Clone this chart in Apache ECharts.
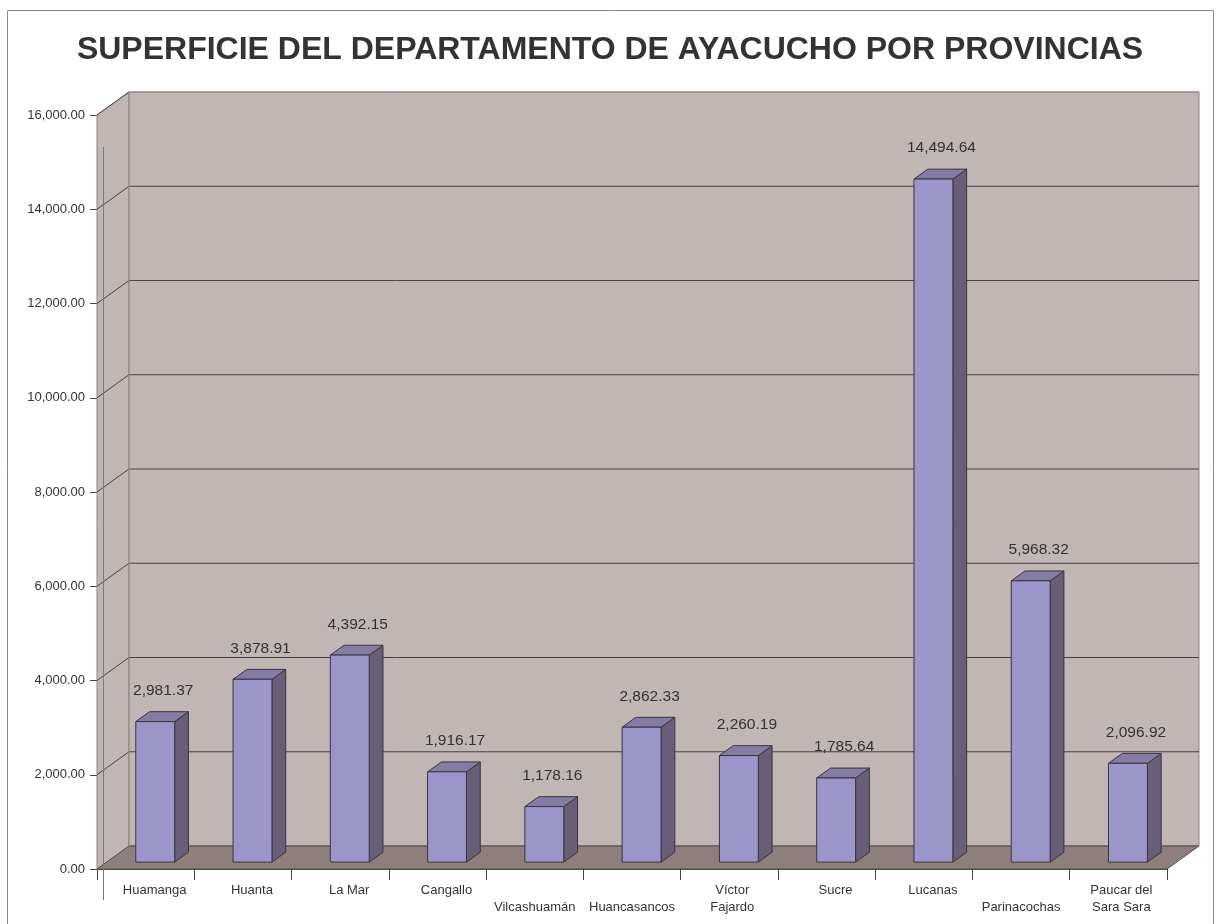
<!DOCTYPE html>
<html>
<head>
<meta charset="utf-8">
<script src="https://cdn.jsdelivr.net/npm/echarts@6/dist/echarts.min.js"></script>
<style>html,body{margin:0;padding:0;background:#fff}#c{width:1220px;height:924px}</style>
</head>
<body>
<div id="c"></div>
<script>
// ---- data ----
const categories = ['Huamanga','Huanta','La Mar','Cangallo','Vilcashuamán','Huancasancos','Víctor Fajardo','Sucre','Lucanas','Parinacochas','Paucar del Sara Sara'];
const tickLabels = ['Huamanga','Huanta','La Mar','Cangallo','\nVilcashuamán','\nHuancasancos','Víctor\nFajardo','Sucre','Lucanas','\nParinacochas','Paucar del\nSara Sara'];
const values = [2981.37, 3878.91, 4392.15, 1916.17, 1178.16, 2862.33, 2260.19, 1785.64, 14494.64, 5968.32, 2096.92];
const yTicks = [0, 2000, 4000, 6000, 8000, 10000, 12000, 14000, 16000];
const titleText = 'SUPERFICIE DEL DEPARTAMENTO DE AYACUCHO POR PROVINCIAS';

// ---- style constants ----
const DX = 32, DY = -23;          // depth of the 3D box
const FONT = '"Liberation Sans", Arial, Helvetica, sans-serif';
const fmt = v => v.toLocaleString('en-US', {minimumFractionDigits: 2, maximumFractionDigits: 2});

const chart = echarts.init(document.getElementById('c'), null, {renderer: 'canvas'});

function renderWalls(params, api) {
  const cs = params.coordSys;
  const x0 = cs.x, x1 = cs.x + cs.width;
  const yTop = api.coord([0, yTicks[yTicks.length - 1]])[1];
  const yBot = api.coord([0, 0])[1];
  const children = [];
  children.push({type: 'polygon', shape: {points: [[x0, yTop], [x0, yBot], [x0 + DX, yBot + DY], [x0 + DX, yTop + DY]]},
    style: {fill: '#c0b6b3', stroke: '#8f8582', lineWidth: 1}});
  children.push({type: 'rect', shape: {x: x0 + DX, y: yTop + DY, width: x1 - x0, height: yBot - yTop},
    style: {fill: '#c0b6b3', stroke: '#8f8582', lineWidth: 1}});
  children.push({type: 'polygon', shape: {points: [[x0, yBot], [x1, yBot], [x1 + DX, yBot + DY], [x0 + DX, yBot + DY]]},
    style: {fill: '#8d807c', stroke: '#5a5050', lineWidth: 1}});
  yTicks.forEach(v => {
    if (v === 0) return;
    const y = api.coord([0, v])[1];
    const last = v === yTicks[yTicks.length - 1];
    children.push({type: 'line', shape: {x1: x0 + DX, y1: y + DY, x2: x1 + DX, y2: y + DY},
      style: {stroke: last ? '#8f8582' : '#4a4244', lineWidth: 1}});
    children.push({type: 'line', shape: {x1: x0, y1: y, x2: x0 + DX, y2: y + DY},
      style: {stroke: '#4a4244', lineWidth: 1}});
  });
  children.push({type: 'line', shape: {x1: x0 + DX, y1: yBot + DY, x2: x1 + DX, y2: yBot + DY}, style: {stroke: '#6a5f5c', lineWidth: 1}});
  children.push({type: 'line', shape: {x1: x0 + DX, y1: yTop + DY, x2: x0 + DX, y2: yBot + DY}, style: {stroke: '#9a908d', lineWidth: 1}});
  return {type: 'group', children: children};
}

function renderBar(params, api) {
  const idx = api.value(0), val = api.value(1);
  const top = api.coord([idx, val]);
  const base = api.coord([idx, 0]);
  const bw = api.size([1, 0])[0];
  const w = bw * 0.4;
  const f0 = 0.3, fd = 0.43;
  const ox = DX * f0, oy = DY * f0;
  const dx = DX * fd, dy = DY * fd;
  const xl = top[0] - w / 2 + ox, xr = xl + w;
  const yt = top[1] + oy, yb = base[1] + oy;
  const st = {stroke: '#3a3440', lineWidth: 1, lineJoin: 'miter'};
  return {type: 'group', children: [
    {type: 'polygon', shape: {points: [[xr, yt], [xr + dx, yt + dy], [xr + dx, yb + dy], [xr, yb]]},
      style: Object.assign({fill: '#695e78'}, st)},
    {type: 'polygon', shape: {points: [[xl, yt], [xr, yt], [xr + dx, yt + dy], [xl + dx, yt + dy]]},
      style: Object.assign({fill: '#857ca3'}, st)},
    {type: 'rect', shape: {x: xl, y: yt, width: w, height: yb - yt},
      style: Object.assign({fill: '#9c95c9'}, st)},
    {type: 'text', style: {text: fmt(val), x: (xl + xr) / 2 + 8, y: yt + dy - 21,
      align: 'center', verticalAlign: 'middle', fill: '#333', font: '15.5px ' + FONT}}
  ]};
}

// long / wrapped labels sit nearer the category centre than short ones
const xData = categories.map((c, i) => {
  const lines = tickLabels[i].split('\n').filter(s => s.length);
  const longest = Math.max.apply(null, lines.map(s => s.length));
  const shift = longest > 10 ? 0 : (lines.length > 1 ? 6 : 18);
  return {value: c, textStyle: {padding: [0, 0, 0, shift]}};
});

const option = {
  animation: false,
  backgroundColor: '#fff',
  title: {text: titleText, left: 'center', top: 29,
    textStyle: {fontFamily: FONT, fontSize: 32, fontWeight: 'bold', color: '#333'}},
  grid: {left: 97, right: 53, top: 115, bottom: 55, containLabel: false},
  xAxis: {
    type: 'category', data: xData,
    axisLine: {show: true, lineStyle: {color: '#444', width: 1}},
    axisTick: {show: true, length: 11, lineStyle: {color: '#444'}},
    axisLabel: {interval: 0, margin: 13, fontFamily: FONT, fontSize: 13, color: '#333', lineHeight: 17,
      formatter: (v, i) => tickLabels[i]},
    splitLine: {show: false}
  },
  yAxis: {
    type: 'value', min: 0, max: 16000, interval: 2000,
    axisLine: {show: true, lineStyle: {color: '#555', width: 1}},
    axisTick: {show: true, length: 7, lineStyle: {color: '#444'}},
    axisLabel: {margin: 12, fontFamily: FONT, fontSize: 13, color: '#333', formatter: v => fmt(v)},
    splitLine: {show: false}
  },
  graphic: [
    {type: 'rect', shape: {x: 7.5, y: 10.5, width: 1206, height: 930}, style: {fill: 'none', stroke: '#8a8a8a', lineWidth: 1}, z: 100},
    {type: 'line', shape: {x1: 103.5, y1: 147, x2: 103.5, y2: 900}, style: {stroke: '#7a7a7a', lineWidth: 1}, z: 100}
  ],
  series: [
    {type: 'custom', name: 'walls', renderItem: renderWalls, data: [0], z: 1, silent: true},
    {type: 'custom', name: 'Superficie', renderItem: renderBar, z: 2,
      data: values.map((v, i) => [i, v]), encode: {x: 0, y: 1}}
  ]
};
chart.setOption(option);
</script>
</body>
</html>
